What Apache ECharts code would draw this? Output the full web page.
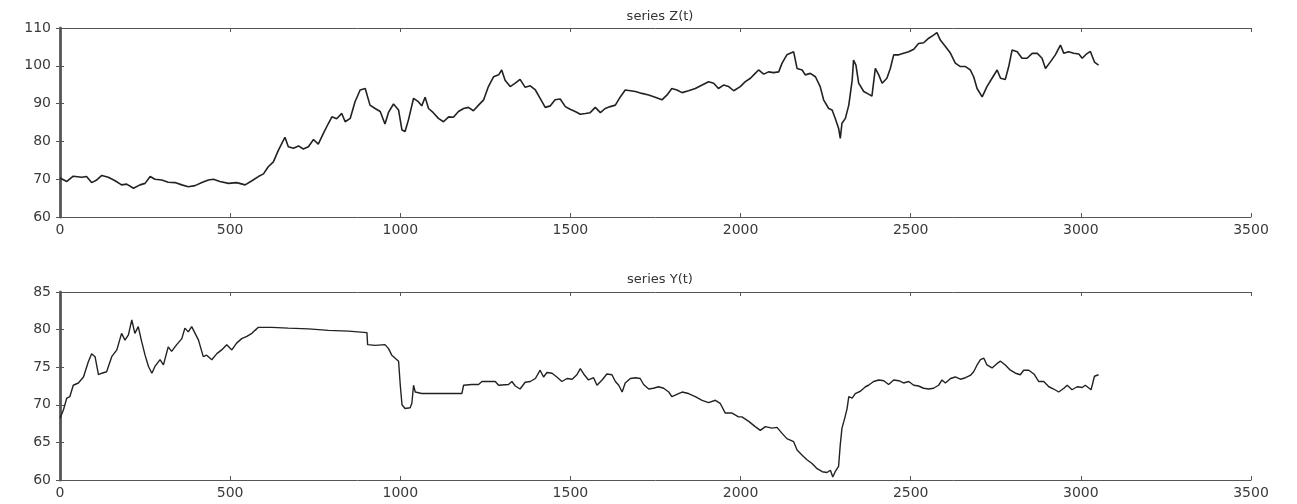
<!DOCTYPE html>
<html>
<head>
<meta charset="utf-8">
<script src="https://cdn.jsdelivr.net/npm/echarts@6/dist/echarts.min.js"></script>
<style>
  html, body { margin: 0; padding: 0; background: #fff; }
  #chart { width: 1297px; height: 504px; }
</style>
</head>
<body>
<div id="chart"></div>
<script>
// series Z(t)
var tZ = [0, 5, 20, 39, 64, 78, 93, 108, 123, 142, 162, 181, 196, 216, 235, 250, 265, 279, 299, 318,
  338, 358, 377, 397, 417, 436, 451, 470, 495, 519, 544, 564, 583, 598, 612, 627, 642, 652, 661, 671,
  686, 701, 715, 730, 745, 759, 774, 789, 799, 813, 828, 838, 853, 867, 882, 897, 911, 926, 941, 955,
  965, 980, 985, 995, 1005, 1014, 1024, 1039, 1053, 1063, 1073, 1083, 1097, 1112, 1127, 1142, 1156, 1171, 1186, 1200,
  1215, 1230, 1245, 1259, 1274, 1289, 1298, 1308, 1323, 1338, 1352, 1367, 1382, 1397, 1411, 1426, 1441, 1455, 1470, 1485,
  1499, 1514, 1529, 1544, 1558, 1573, 1588, 1602, 1617, 1632, 1646, 1661, 1676, 1691, 1710, 1730, 1749, 1769, 1784, 1798,
  1813, 1828, 1847, 1867, 1887, 1906, 1921, 1935, 1950, 1965, 1980, 1999, 2014, 2029, 2043, 2053, 2068, 2082, 2097, 2112,
  2122, 2136, 2146, 2156, 2166, 2181, 2190, 2205, 2220, 2234, 2244, 2259, 2269, 2278, 2288, 2293, 2298, 2308, 2318, 2328,
  2332, 2339, 2347, 2362, 2376, 2386, 2396, 2406, 2416, 2430, 2440, 2450, 2465, 2479, 2494, 2509, 2523, 2538, 2553, 2567,
  2577, 2587, 2602, 2617, 2631, 2646, 2661, 2675, 2685, 2695, 2710, 2724, 2739, 2754, 2764, 2778, 2788, 2798, 2813, 2827,
  2842, 2857, 2872, 2886, 2896, 2911, 2925, 2940, 2950, 2964, 2979, 2994, 3004, 3015, 3028, 3040, 3052];
var zVals = [70.3, 70, 69.4, 70.8, 70.5, 70.7, 69.1, 69.8, 71, 70.5, 69.6, 68.5, 68.7, 67.6, 68.5, 68.9, 70.7, 70, 69.8, 69.2,
  69.1, 68.5, 68, 68.3, 69.1, 69.8, 70, 69.4, 68.9, 69.1, 68.5, 69.6, 70.7, 71.4, 73.3, 74.6, 77.7, 79.5, 81.1, 78.6,
  78.2, 78.8, 78, 78.6, 80.5, 79.3, 82.1, 84.8, 86.5, 86, 87.4, 85.2, 86.1, 90.5, 93.6, 94, 89.6, 88.7, 87.9, 84.6,
  87.6, 89.9, 90, 88.3, 83, 82.6, 85.7, 91.4, 90.5, 89.4, 91.7, 88.7, 87.6, 86.1, 85.2, 86.5, 86.4, 87.9, 88.7, 89,
  88.1, 89.6, 91, 94.5, 97.1, 97.6, 98.9, 96.2, 94.5, 95.4, 96.4, 94.3, 94.7, 93.6, 91.4, 89, 89.4, 91, 91.2, 89.2,
  88.5, 87.9, 87.2, 87.4, 87.6, 89, 87.6, 88.7, 89.2, 89.6, 91.7, 93.6, 93.4, 93.2, 92.7, 92.3, 91.7, 91, 92.3, 94,
  93.6, 92.9, 93.4, 94, 94.9, 95.8, 95.4, 94, 94.9, 94.5, 93.4, 94.5, 95.8, 96.7, 98, 98.9, 97.8, 98.4, 98.2, 98.4,
  100.7, 102.9, 103.3, 103.7, 99.3, 98.9, 97.6, 98, 97.1, 94.5, 91, 88.7, 88.3, 86.1, 83.5, 80.8, 84.8, 86.1, 89.6, 96.2,
  101.5, 100.2, 95.4, 93.2, 92.5, 92, 99.3, 97.6, 95.4, 96.7, 99.3, 102.9, 102.9, 103.3, 103.7, 104.4, 105.9, 106.1, 107.3, 108.1,
  108.8, 106.8, 105.1, 103.3, 100.7, 99.8, 99.8, 98.9, 97.1, 94, 91.8, 94.5, 96.7, 98.9, 96.7, 96.4, 99.8, 104.2, 103.7, 102,
  102, 103.3, 103.3, 102, 99.3, 101.1, 102.9, 105.5, 103.3, 103.7, 103.3, 103.1, 102, 103, 103.8, 101, 100.2];

// series Y(t)
var tY = [0, 10, 20, 29, 39, 54, 69, 83, 93, 103, 113, 123, 137, 152, 167, 181, 191, 201, 211, 220,
  230, 240, 250, 260, 270, 279, 294, 304, 318, 328, 343, 358, 367, 377, 387, 397, 407, 421, 431, 446,
  461, 475, 490, 505, 519, 534, 549, 564, 573, 583, 622, 671, 730, 789, 848, 902, 904, 926, 955, 965,
  975, 985, 995, 1000, 1005, 1014, 1029, 1034, 1039, 1044, 1063, 1102, 1142, 1181, 1186, 1210, 1230, 1240, 1279, 1289,
  1318, 1328, 1338, 1352, 1367, 1382, 1397, 1411, 1421, 1431, 1446, 1460, 1475, 1490, 1505, 1519, 1529, 1539, 1553, 1568,
  1578, 1593, 1607, 1622, 1632, 1642, 1652, 1661, 1676, 1691, 1705, 1715, 1730, 1744, 1759, 1774, 1789, 1798, 1813, 1828,
  1847, 1867, 1887, 1906, 1926, 1940, 1955, 1975, 1994, 2004, 2024, 2043, 2058, 2073, 2092, 2107, 2122, 2136, 2156, 2166,
  2181, 2195, 2210, 2225, 2240, 2254, 2264, 2271, 2278, 2288, 2293, 2298, 2306, 2313, 2318, 2328, 2337, 2352, 2367, 2376,
  2391, 2406, 2421, 2435, 2450, 2465, 2479, 2494, 2509, 2523, 2538, 2553, 2567, 2582, 2592, 2602, 2617, 2631, 2646, 2661,
  2675, 2685, 2695, 2705, 2715, 2724, 2739, 2754, 2764, 2778, 2793, 2808, 2822, 2832, 2847, 2862, 2876, 2891, 2906, 2920,
  2935, 2950, 2960, 2974, 2989, 3004, 3013, 3030, 3040, 3052];
var yVals = [68.2, 69.3, 70.9, 71.1, 72.6, 72.9, 73.7, 75.7, 76.8, 76.4, 74, 74.2, 74.4, 76.4, 77.3, 79.5, 78.6, 79.3, 81.3, 79.5,
  80.4, 78.4, 76.6, 75.1, 74.2, 75.1, 76, 75.3, 77.7, 77.1, 78, 78.8, 80.2, 79.7, 80.4, 79.5, 78.6, 76.4, 76.6, 76,
  76.8, 77.3, 78, 77.3, 78.2, 78.8, 79.1, 79.5, 79.9, 80.3, 80.3, 80.2, 80.1, 79.9, 79.8, 79.6, 78, 77.9, 78, 77.5,
  76.6, 76.2, 75.8, 72.6, 70, 69.5, 69.6, 70.2, 72.6, 71.7, 71.5, 71.5, 71.5, 71.5, 72.6, 72.7, 72.7, 73.1, 73.1, 72.6,
  72.7, 73.1, 72.5, 72.1, 73, 73.1, 73.5, 74.6, 73.7, 74.3, 74.2, 73.7, 73.1, 73.5, 73.4, 74, 74.8, 74.1, 73.3, 73.6,
  72.6, 73.3, 74.1, 74, 73.1, 72.6, 71.7, 72.9, 73.5, 73.6, 73.5, 72.7, 72.1, 72.2, 72.4, 72.2, 71.7, 71.1, 71.4, 71.7,
  71.5, 71.1, 70.6, 70.3, 70.6, 70.2, 68.9, 68.9, 68.4, 68.4, 67.8, 67.1, 66.6, 67.1, 66.9, 67, 66.2, 65.5, 65.1, 64,
  63.3, 62.7, 62.2, 61.5, 61.1, 61, 61.3, 60.4, 61.1, 61.8, 64.7, 66.9, 68.2, 69.5, 71.1, 70.9, 71.5, 71.8, 72.4, 72.6,
  73.1, 73.3, 73.2, 72.7, 73.3, 73.2, 72.9, 73.1, 72.6, 72.5, 72.2, 72.1, 72.2, 72.6, 73.3, 72.9, 73.5, 73.7, 73.4, 73.6,
  73.9, 74.4, 75.3, 76, 76.2, 75.3, 74.9, 75.5, 75.8, 75.3, 74.6, 74.2, 74, 74.6, 74.6, 74.1, 73.1, 73.1, 72.4, 72.1,
  71.7, 72.2, 72.6, 72, 72.4, 72.3, 72.6, 72, 73.8, 74];

var xTicks = { min: 0, max: 3500, interval: 500 };

function pairs(ts, vs) {
  var out = [];
  for (var i = 0; i < ts.length; i++) out.push([ts[i], vs[i]]);
  return out;
}

function plain(v) { return String(v); }

var labelFont = { color: '#3a3a3a', fontSize: 14, fontFamily: 'DejaVu Sans', formatter: plain };
var frameColor = '#555';

// 坐标轴：下/左带刻度标签，上/右只有内刻度（MATLAB 样式的框）
function xAxisPair(gridIndex) {
  return [{
    type: 'value', gridIndex: gridIndex, position: 'bottom',
    min: xTicks.min, max: xTicks.max, interval: xTicks.interval,
    axisLine: { show: true, lineStyle: { color: frameColor, width: 1 } },
    axisTick: { show: true, inside: true, length: 4, lineStyle: { color: frameColor } },
    axisLabel: Object.assign({ margin: 6, showMinLabel: true, showMaxLabel: true }, labelFont),
    splitLine: { show: false }
  }, {
    type: 'value', gridIndex: gridIndex, position: 'top',
    min: xTicks.min, max: xTicks.max, interval: xTicks.interval,
    axisLine: { show: true, lineStyle: { color: frameColor, width: 1 } },
    axisTick: { show: true, inside: true, length: 4, lineStyle: { color: frameColor } },
    axisLabel: { show: false },
    splitLine: { show: false }
  }];
}

function yAxisPair(gridIndex, min, max, interval) {
  return [{
    type: 'value', gridIndex: gridIndex, position: 'left',
    min: min, max: max, interval: interval,
    axisLine: { show: true, lineStyle: { color: '#666', width: 3 } },
    axisTick: { show: true, inside: true, length: 4, lineStyle: { color: frameColor } },
    axisLabel: Object.assign({ margin: 9, showMinLabel: true, showMaxLabel: true }, labelFont),
    splitLine: { show: false }
  }, {
    type: 'value', gridIndex: gridIndex, position: 'right',
    min: min, max: max, interval: interval,
    axisLine: { show: true, lineStyle: { color: frameColor, width: 1 } },
    axisTick: { show: true, inside: true, length: 4, lineStyle: { color: frameColor } },
    axisLabel: { show: false },
    splitLine: { show: false }
  }];
}

var chart = echarts.init(document.getElementById('chart'));

var option = {
  animation: false,
  backgroundColor: '#fff',
  title: [{
    text: 'series Z(t)', left: 655, top: 5, textAlign: 'center',
    textStyle: { color: '#333', fontSize: 13, fontWeight: 'normal', fontFamily: 'DejaVu Sans' }
  }, {
    text: 'series Y(t)', left: 655, top: 268, textAlign: 'center',
    textStyle: { color: '#333', fontSize: 13, fontWeight: 'normal', fontFamily: 'DejaVu Sans' }
  }],
  grid: [
    { left: 60, top: 28, width: 1191, height: 189 },
    { left: 60, top: 292, width: 1191, height: 188 }
  ],
  xAxis: xAxisPair(0).concat(xAxisPair(1)),
  yAxis: yAxisPair(0, 60, 110, 10).concat(yAxisPair(1, 60, 85, 5)),
  series: [{
    name: 'series Z(t)', type: 'line', xAxisIndex: 0, yAxisIndex: 0,
    showSymbol: false, data: pairs(tZ, zVals),
    lineStyle: { color: '#222', width: 1.6 }
  }, {
    name: 'series Y(t)', type: 'line', xAxisIndex: 2, yAxisIndex: 2,
    showSymbol: false, data: pairs(tY, yVals),
    lineStyle: { color: '#222', width: 1.4 }
  }]
};

chart.setOption(option);
</script>
</body>
</html>
